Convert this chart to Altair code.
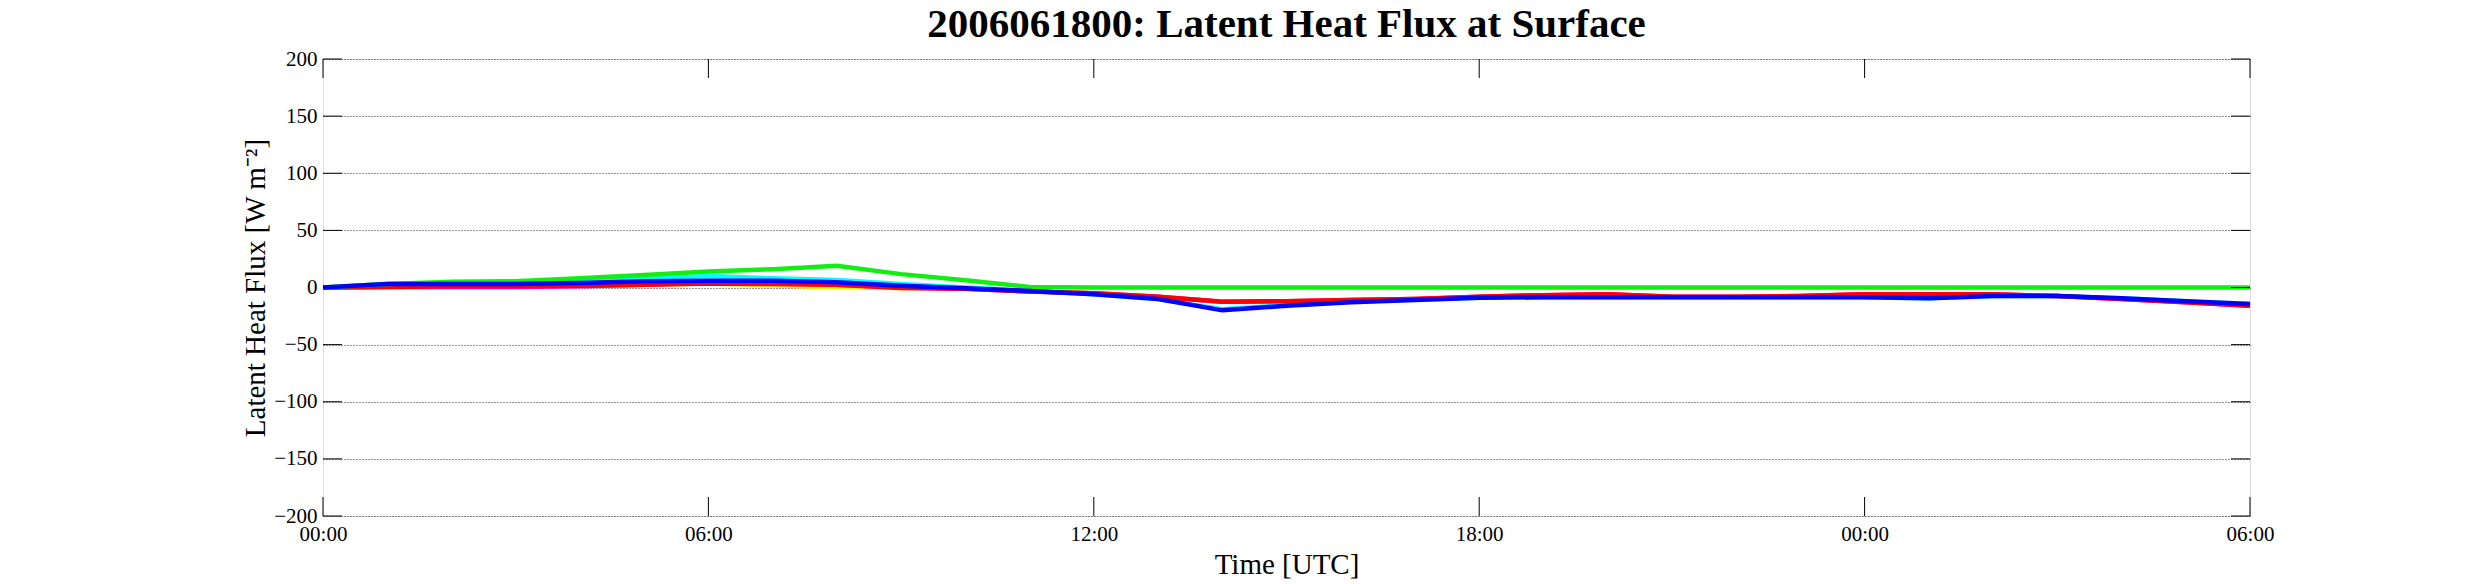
import altair as alt
import pandas as pd

hours = list(range(31))
tick_hours = [0, 6, 12, 18, 24, 30]
y_ticks = [-200, -150, -100, -50, 0, 50, 100, 150, 200]

yellow = [0, 0.5, 1, 1, 1.5, 2.5, 3.5, 2, 0, -0.5, -1, -3.5, -5, -8, -12.5, -12, -11, -10, -8, -6.7,
          -6, -8, -8, -7.5, -6, -6, -6, -7.5, -10, -13, -16]
magenta = [0, 0.5, 0.5, 0.5, 1, 2.5, 4, 3.5, 2.5, 0, -1, -3.5, -5, -8, -12.5, -12, -11, -10, -8, -6.7,
           -6, -8, -8, -7.5, -6, -6, -6, -7.5, -10, -13, -16]
cyan = [0, 3, 3.5, 3.5, 5, 7.5, 10, 8, 6.5, 3, 0, -3, -6, -10, -19, -15.5, -12.5, -10.5, -9, -8.5,
        -8.5, -8.5, -8.5, -8.5, -8.5, -9.5, -7.5, -7.5, -9.5, -12, -14.5]
red = [0, 0.5, 1, 1, 1.5, 2.5, 3.5, 3, 2.3, -0.5, -1, -3.5, -5, -8, -12.5, -12, -11, -10, -8, -6.7,
       -6, -8, -8, -7.5, -6, -6, -6, -7.5, -10, -13, -16]
green = [0, 3, 5, 5.5, 8, 11, 14, 16, 19, 11.7, 6.4, 0.5, 0, 0, 0, 0, 0, 0, 0, 0,
         0, 0, 0, 0, 0, 0, 0, 0, 0, 0, 0]
blue = [0, 3, 3, 3, 4, 5.5, 6, 6, 4.5, 1.5, -0.6, -3, -6, -10, -20, -16, -13, -11, -9, -8.5,
        -8.5, -8.5, -8.5, -8.5, -8.5, -9.5, -7.5, -7.5, -9.5, -12, -14.5]

series_names = ["yellow", "magenta", "cyan", "red", "green", "blue"]
series_values = [yellow, magenta, cyan, red, green, blue]
series_colors = ["#ffff00", "#ff00ff", "#00ffff", "#ff0000", "#11ee11", "#0000ff"]

rows = []
for name, vals in zip(series_names, series_values):
    for h, v in zip(hours, vals):
        rows.append({"series": name, "hour": h, "value": v})
df = pd.DataFrame(rows)

W, H = 1927, 457
TICK = 19
FONT = "Liberation Serif"

x_scale = alt.Scale(domain=[0, 30], nice=False, zero=False)
y_scale = alt.Scale(domain=[-200, 200], nice=False, zero=False)

x_enc = alt.X(
    "hour:Q", scale=x_scale,
    axis=alt.Axis(
        values=tick_hours,
        labelExpr="(datum.value % 24 < 10 ? '0' : '') + (datum.value % 24) + ':00'",
        title="Time [UTC]", grid=False, ticks=False, tickSize=0, domain=False,
        labelFont=FONT, labelFontSize=21, labelColor="black", labelPadding=7,
        labelFlush=False, labelOverlap=False,
        titleFont=FONT, titleFontSize=29, titleFontWeight="normal", titleColor="black",
        titleBaseline="alphabetic", titleY=57,
    ),
)
y_enc = alt.Y(
    "value:Q", scale=y_scale,
    axis=alt.Axis(
        values=y_ticks, grid=True, gridDash=[1, 2], gridColor="black", gridOpacity=0.85,
        gridWidth=1, ticks=False, tickSize=0, domain=False,
        labelFont=FONT, labelFontSize=21, labelColor="black", labelPadding=6,
        labelFlush=False, labelOverlap=False,
        title="Latent Heat Flux [W m⁻²]", titleFont=FONT, titleFontSize=29,
        titleFontWeight="normal", titleColor="black", titleAngle=270,
        titleX=-68, titleY=H / 2, titleAlign="center", titleBaseline="middle",
    ),
)

layers = []
for name, col in zip(series_names, series_colors):
    layers.append(
        alt.Chart(df).transform_filter(alt.datum.series == name)
        .mark_line(color=col, strokeWidth=4.5, strokeJoin="miter")
        .encode(x=x_enc, y=y_enc)
    )

ytick_df = pd.DataFrame({"value": y_ticks})
xtick_df = pd.DataFrame({"hour": tick_hours})

ytl = alt.Chart(ytick_df).mark_rule(color="black", strokeWidth=1).encode(
    y=alt.Y("value:Q", scale=y_scale), x=alt.value(0), x2=alt.value(TICK))
ytr = alt.Chart(ytick_df).mark_rule(color="black", strokeWidth=1).encode(
    y=alt.Y("value:Q", scale=y_scale), x=alt.value(W - TICK), x2=alt.value(W))
xtb = alt.Chart(xtick_df).mark_rule(color="black", strokeWidth=1).encode(
    x=alt.X("hour:Q", scale=x_scale), y=alt.value(H - TICK), y2=alt.value(H))
xtt = alt.Chart(xtick_df).mark_rule(color="black", strokeWidth=1).encode(
    x=alt.X("hour:Q", scale=x_scale), y=alt.value(0), y2=alt.value(TICK))

chart = alt.layer(*layers, ytl, ytr, xtb, xtt).properties(
    width=W, height=H,
    autosize=alt.AutoSizeParams(type="none"),
    padding={"left": 315, "top": 51, "right": 220, "bottom": 68},
    title=alt.Title(
        "2006061800: Latent Heat Flux at Surface", font=FONT, fontSize=41,
        fontWeight="bold", color="black", anchor="middle", frame="group",
        offset=2,
    ),
).configure_view(stroke="black", strokeWidth=1.3).configure(background="white")

chart.save("out.html", embed_options={"renderer": "svg", "actions": False})
